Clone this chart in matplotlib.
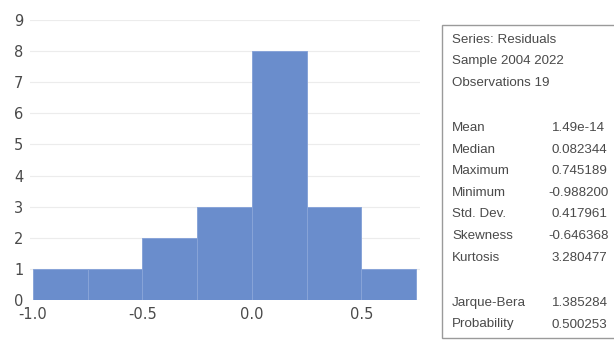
import matplotlib
matplotlib.use("Agg")
from matplotlib import pyplot as plt
from matplotlib.patches import Rectangle

# histogram of residuals
bin_edges = [-1.0, -0.75, -0.5, -0.25, 0.0, 0.25, 0.5, 0.75]
counts = [1, 1, 2, 3, 8, 3, 1]

xticks = [-1.0, -0.5, 0.0, 0.5]
yticks = list(range(10))

header_lines = ["Series: Residuals", "Sample 2004 2022", "Observations 19"]
stat_names = ["Mean", "Median", "Maximum", "Minimum", "Std. Dev.", "Skewness", "Kurtosis"]
stat_values = ["1.49e-14", "0.082344", "0.745189", "-0.988200", "0.417961", "-0.646368", "3.280477"]
test_names = ["Jarque-Bera", "Probability"]
test_values = ["1.385284", "0.500253"]

BAR = "#6a8dcc"
TXT = "#4a4a4a"


def main():
    W, H = 614, 340
    fig = plt.figure(figsize=(W / 100, H / 100), dpi=100)

    ax = fig.add_axes([29.7 / W, 40 / H, (420.4 - 29.7) / W, 280 / H])
    widths = [b - a for a, b in zip(bin_edges[:-1], bin_edges[1:])]
    ax.bar(bin_edges[:-1], counts, width=widths, align="edge",
           color=BAR, edgecolor="#88a4d8", linewidth=0.7, zorder=2)
    ax.set_xlim(-1.015, 0.77)
    ax.set_ylim(0, 9)
    ax.set_xticks(xticks)
    ax.set_xticklabels(["%.1f" % t for t in xticks])
    ax.set_yticks(yticks)
    ax.grid(axis="y", color="#ececec", linewidth=0.8, zorder=0)
    for s in ax.spines.values():
        s.set_visible(False)
    ax.tick_params(length=0, labelsize=10.5, colors=TXT)
    ax.tick_params(axis="x", pad=5)
    ax.tick_params(axis="y", pad=11.3)
    for lbl in ax.get_yticklabels():
        lbl.set_horizontalalignment("left")

    # stats box
    box = Rectangle((442 / W, 2 / H), 0.5, (338 - 25) / H, transform=fig.transFigure,
                    facecolor="white", edgecolor="#9a9a9a", linewidth=1.0)
    fig.patches.append(box)

    fs = 9.6
    fam = ["Liberation Sans", "DejaVu Sans"]
    xl, xv = 452 / W, 552 / W
    minus_w = 4 / W

    def value(y, v):
        x = xv - minus_w if v.startswith("-") else xv
        fig.text(x, 1 - y / H, v, fontsize=fs, color=TXT, va="center", family=fam)

    ys = [40, 61, 83]
    for y, t in zip(ys, header_lines):
        fig.text(xl, 1 - y / H, t, fontsize=fs, color=TXT, va="center", family=fam)
    for i, (n, v) in enumerate(zip(stat_names, stat_values)):
        y = 128 + i * 21.6
        fig.text(xl, 1 - y / H, n, fontsize=fs, color=TXT, va="center", family=fam)
        value(y, v)
    for i, (n, v) in enumerate(zip(test_names, test_values)):
        y = 303 + i * 21.5
        fig.text(xl, 1 - y / H, n, fontsize=fs, color=TXT, va="center", family=fam)
        value(y, v)

    fig.savefig("out.png", dpi=100)


if __name__ == '__main__':
    main()
